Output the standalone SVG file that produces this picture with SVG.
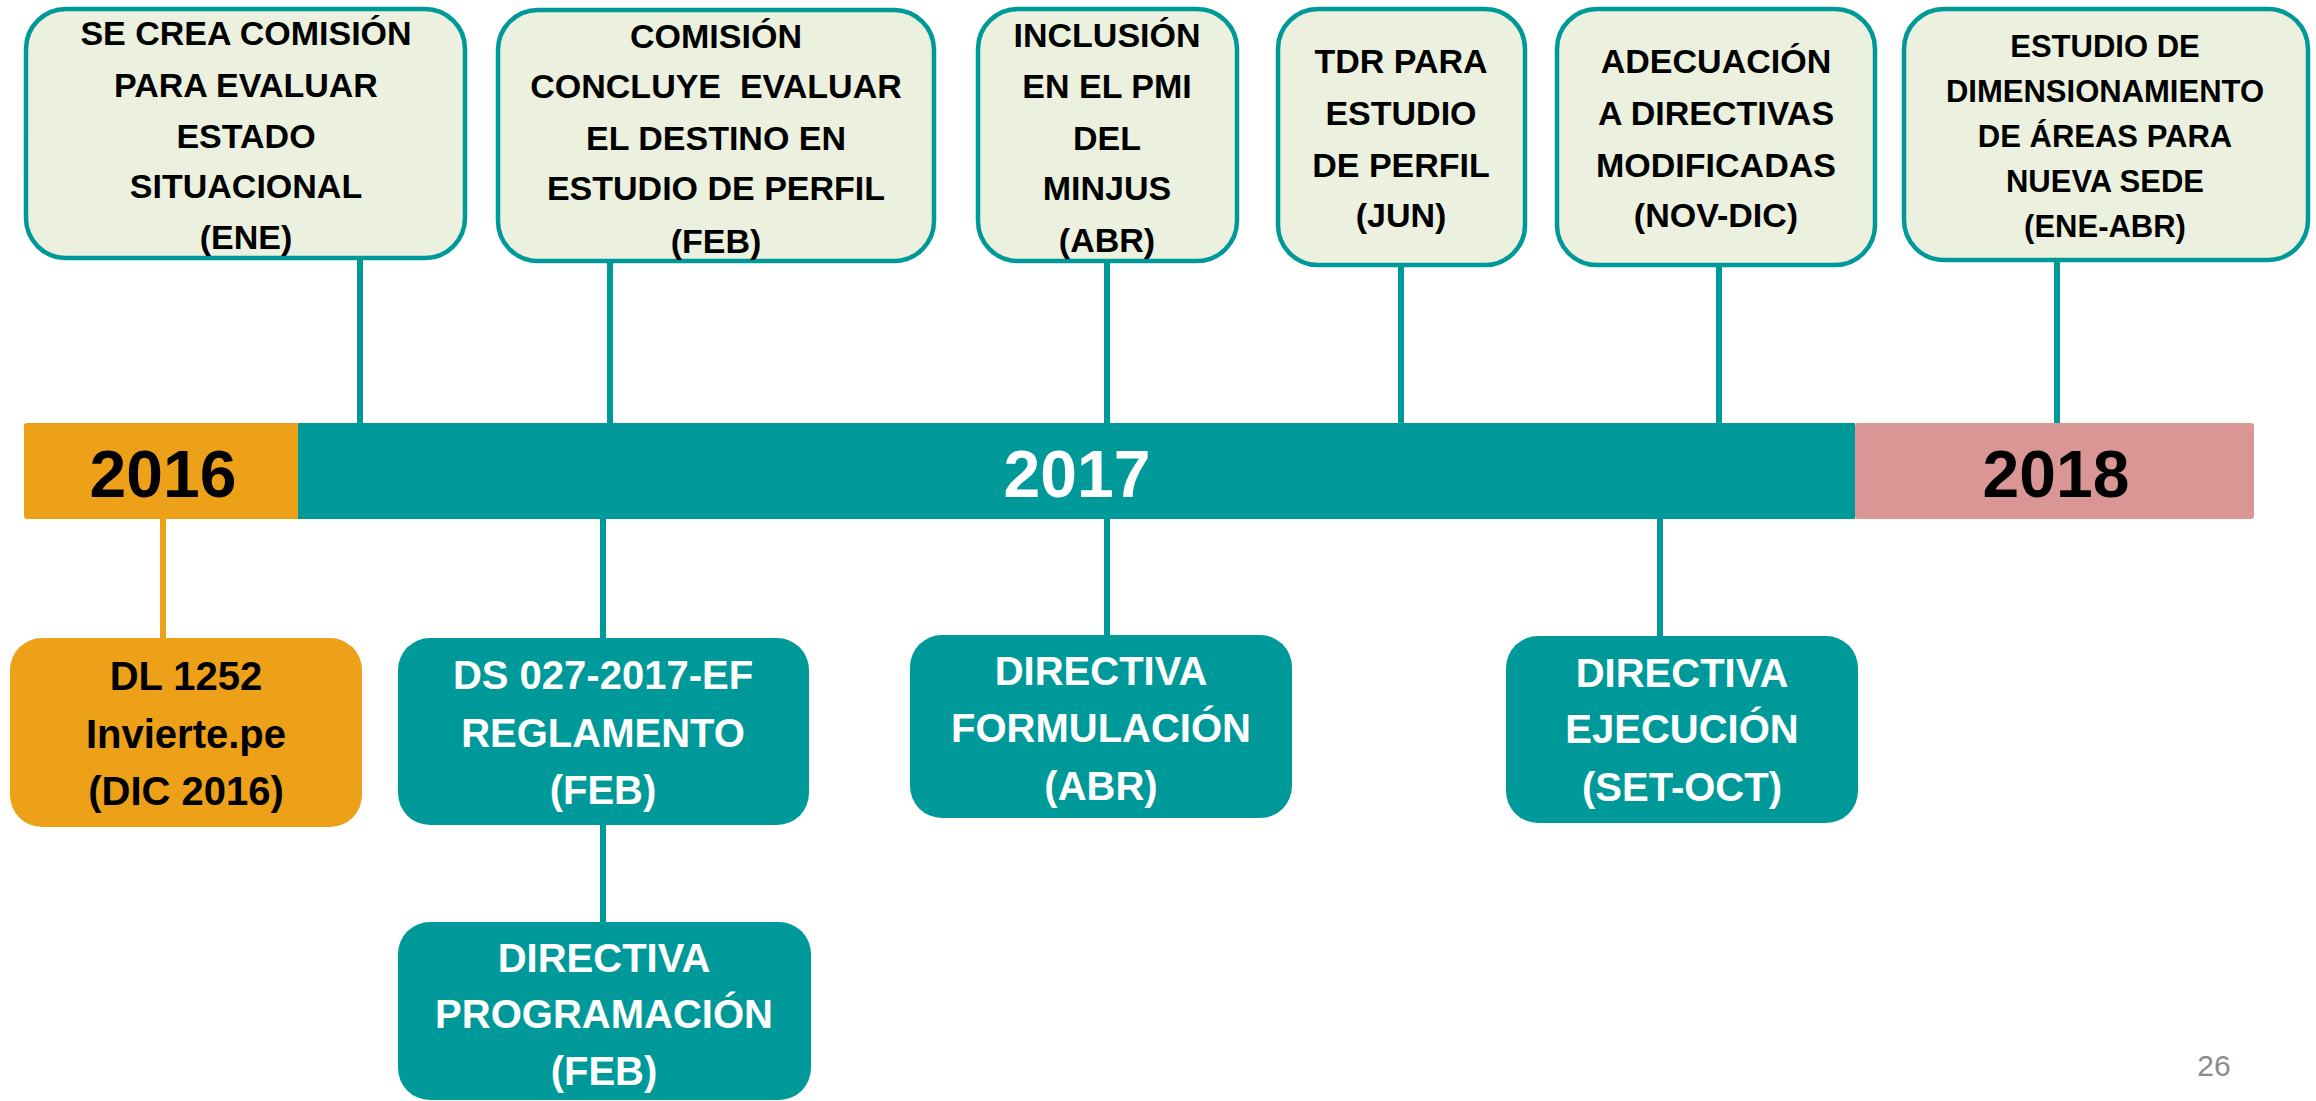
<svg xmlns="http://www.w3.org/2000/svg" width="2316" height="1101" viewBox="0 0 2316 1101">
  <style>
    .bg { fill: #ffffff; }
    .topbox { fill: #EBF1DE; stroke: #009999; stroke-width: 4.5; }
    .teal { fill: #009999; }
    .orange { fill: #EDA118; }
    .pink { fill: #D99694; }
    .t { font-family: 'Liberation Sans', Arial, sans-serif; font-weight: bold; text-anchor: middle; }
    .s34 { font-size: 34px; }
    .s31 { font-size: 31px; }
    .s40 { font-size: 40px; }
    .s66 { font-size: 66px; }
    .blk { fill: #000000; }
    .wht { fill: #ffffff; }
    .conn line { stroke: #009999; stroke-width: 6; }
    .conn line.o { stroke: #EDA118; }
    .pg { font-family: 'Liberation Sans', Arial, sans-serif; font-size: 30px; fill: #8B8B8B; text-anchor: middle; }
  </style>
  <rect class="bg" x="0" y="0" width="2316" height="1101"/>

  <g id="connectors" class="conn">
    <line x1="360" y1="258" x2="360" y2="424"/>
    <line x1="610" y1="261" x2="610" y2="424"/>
    <line x1="1107" y1="261" x2="1107" y2="424"/>
    <line x1="1401" y1="265" x2="1401" y2="424"/>
    <line x1="1719" y1="265" x2="1719" y2="424"/>
    <line x1="2057" y1="260" x2="2057" y2="428"/>
    <line class="o" x1="163" y1="518" x2="163" y2="640"/>
    <line x1="603" y1="518" x2="603" y2="640"/>
    <line x1="603" y1="823" x2="603" y2="924"/>
    <line x1="1107" y1="518" x2="1107" y2="637"/>
    <line x1="1660" y1="518" x2="1660" y2="638"/>
  </g>

  <g id="timeline">
    <g id="year-2016">
      <rect class="orange" x="24" y="423" width="276" height="96" rx="3"/>
      <text class="t s66 blk" x="163" y="497">2016</text>
    </g>
    <g id="year-2017">
      <rect class="teal" x="298" y="423" width="1557" height="96"/>
      <text class="t s66 wht" x="1077" y="497">2017</text>
    </g>
    <g id="year-2018">
      <rect class="pink" x="1855" y="423" width="399" height="96" rx="3"/>
      <text class="t s66 blk" x="2056" y="497">2018</text>
    </g>
  </g>

  <g id="node-comision-ene">
    <rect class="topbox" x="26" y="9" width="439" height="249" rx="40"/>
    <text class="t s34 blk" x="246" y="45">SE CREA COMISIÓN</text>
    <text class="t s34 blk" x="246" y="97">PARA EVALUAR</text>
    <text class="t s34 blk" x="246" y="148">ESTADO</text>
    <text class="t s34 blk" x="246" y="198">SITUACIONAL</text>
    <text class="t s34 blk" x="246" y="249">(ENE)</text>
  </g>

  <g id="node-comision-feb">
    <rect class="topbox" x="498" y="10" width="436" height="251" rx="40"/>
    <text class="t s34 blk" x="716" y="48">COMISIÓN</text>
    <text class="t s34 blk" x="716" y="98" style="white-space:pre">CONCLUYE  EVALUAR</text>
    <text class="t s34 blk" x="716" y="150">EL DESTINO EN</text>
    <text class="t s34 blk" x="716" y="200">ESTUDIO DE PERFIL</text>
    <text class="t s34 blk" x="716" y="253">(FEB)</text>
  </g>

  <g id="node-inclusion">
    <rect class="topbox" x="978" y="9" width="259" height="252" rx="40"/>
    <text class="t s34 blk" x="1107" y="47">INCLUSIÓN</text>
    <text class="t s34 blk" x="1107" y="98">EN EL PMI</text>
    <text class="t s34 blk" x="1107" y="150">DEL</text>
    <text class="t s34 blk" x="1107" y="200">MINJUS</text>
    <text class="t s34 blk" x="1107" y="252">(ABR)</text>
  </g>

  <g id="node-tdr">
    <rect class="topbox" x="1278" y="9" width="247" height="256" rx="40"/>
    <text class="t s34 blk" x="1401" y="73">TDR PARA</text>
    <text class="t s34 blk" x="1401" y="125">ESTUDIO</text>
    <text class="t s34 blk" x="1401" y="177">DE PERFIL</text>
    <text class="t s34 blk" x="1401" y="227">(JUN)</text>
  </g>

  <g id="node-adecuacion">
    <rect class="topbox" x="1557" y="9" width="318" height="256" rx="40"/>
    <text class="t s34 blk" x="1716" y="73">ADECUACIÓN</text>
    <text class="t s34 blk" x="1716" y="125">A DIRECTIVAS</text>
    <text class="t s34 blk" x="1716" y="177">MODIFICADAS</text>
    <text class="t s34 blk" x="1716" y="227">(NOV-DIC)</text>
  </g>

  <g id="node-estudio-dimensionamiento">
    <rect class="topbox" x="1904" y="9" width="404" height="251" rx="40"/>
    <text class="t s31 blk" x="2105" y="57">ESTUDIO DE</text>
    <text class="t s31 blk" x="2105" y="102">DIMENSIONAMIENTO</text>
    <text class="t s31 blk" x="2105" y="147">DE ÁREAS PARA</text>
    <text class="t s31 blk" x="2105" y="192">NUEVA SEDE</text>
    <text class="t s31 blk" x="2105" y="237">(ENE-ABR)</text>
  </g>

  <g id="node-dl1252">
    <rect class="orange" x="10" y="638" width="352" height="189" rx="32"/>
    <text class="t s40 blk" x="186" y="690">DL 1252</text>
    <text class="t s40 blk" x="186" y="748">Invierte.pe</text>
    <text class="t s40 blk" x="186" y="805">(DIC 2016)</text>
  </g>

  <g id="node-ds027">
    <rect class="teal" x="398" y="638" width="411" height="187" rx="32"/>
    <text class="t s40 wht" x="603" y="689">DS 027-2017-EF</text>
    <text class="t s40 wht" x="603" y="747">REGLAMENTO</text>
    <text class="t s40 wht" x="603" y="804">(FEB)</text>
  </g>

  <g id="node-directiva-programacion">
    <rect class="teal" x="398" y="922" width="413" height="178" rx="32"/>
    <text class="t s40 wht" x="604" y="972">DIRECTIVA</text>
    <text class="t s40 wht" x="604" y="1028">PROGRAMACIÓN</text>
    <text class="t s40 wht" x="604" y="1085">(FEB)</text>
  </g>

  <g id="node-directiva-formulacion">
    <rect class="teal" x="910" y="635" width="382" height="183" rx="32"/>
    <text class="t s40 wht" x="1101" y="685">DIRECTIVA</text>
    <text class="t s40 wht" x="1101" y="742">FORMULACIÓN</text>
    <text class="t s40 wht" x="1101" y="800">(ABR)</text>
  </g>

  <g id="node-directiva-ejecucion">
    <rect class="teal" x="1506" y="636" width="352" height="187" rx="32"/>
    <text class="t s40 wht" x="1682" y="687">DIRECTIVA</text>
    <text class="t s40 wht" x="1682" y="743">EJECUCIÓN</text>
    <text class="t s40 wht" x="1682" y="801">(SET-OCT)</text>
  </g>

  <text class="pg" x="2214" y="1076">26</text>
</svg>
